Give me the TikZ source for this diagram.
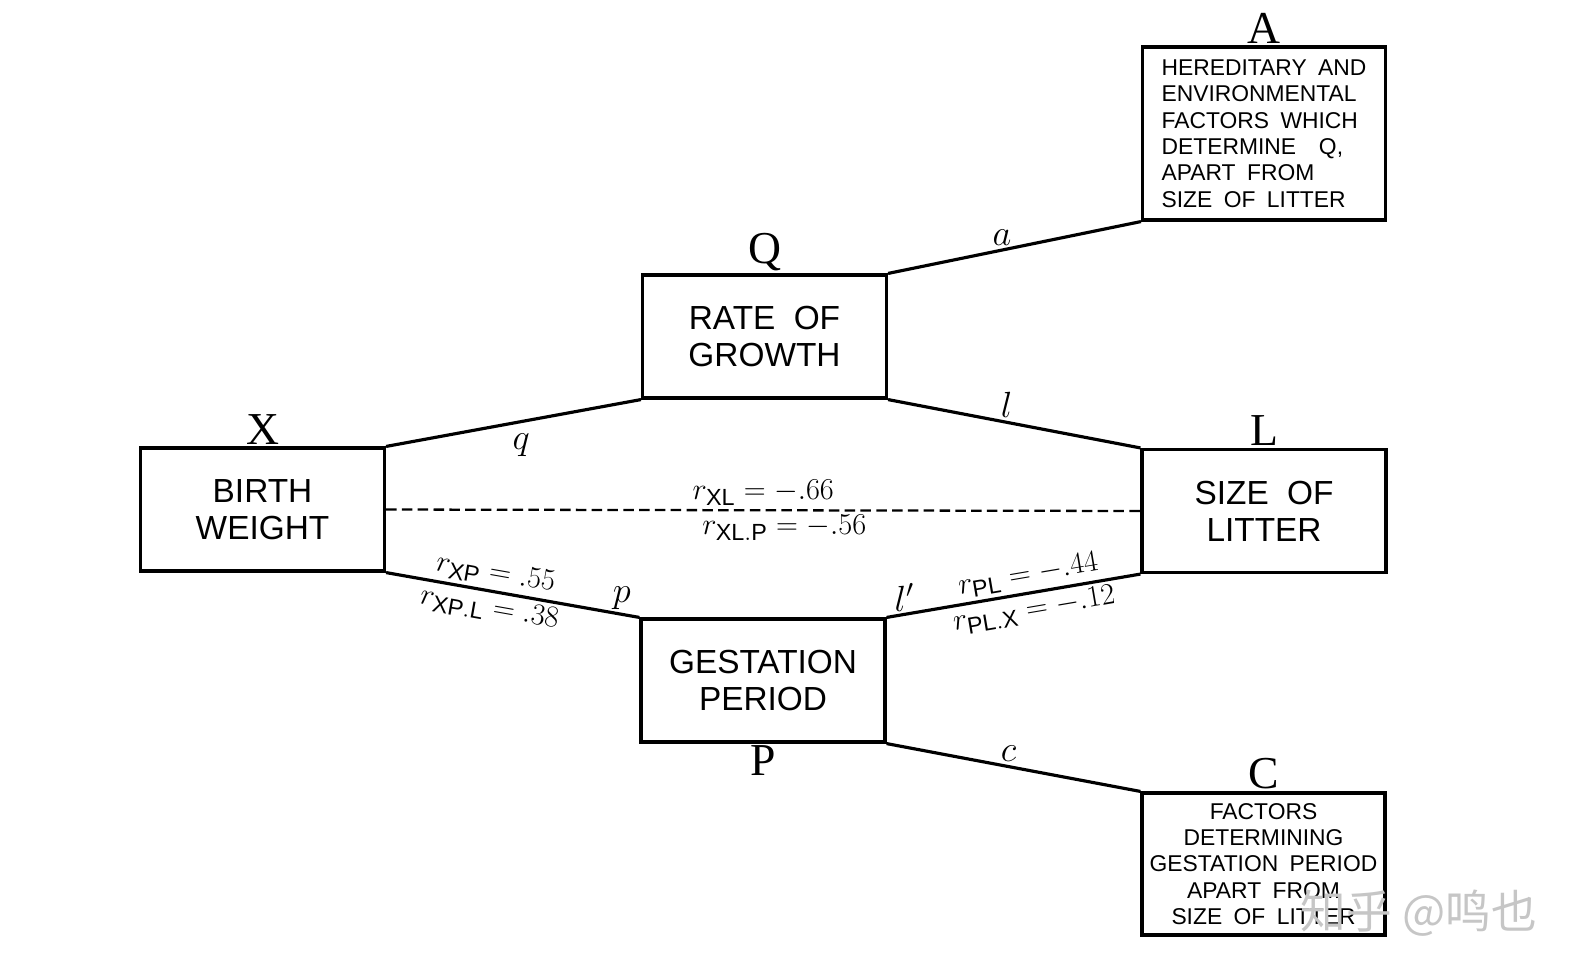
\documentclass[tikz,border=0pt]{standalone}
\usepackage{fontspec}
\setmainfont{Liberation Sans}
\newfontfamily\capserif{Liberation Serif}
\newfontfamily\cjkmark{Noto Sans CJK SC}
\usetikzlibrary{positioning}
\protected\def\varfont{\fontsize{19}{21}\selectfont\spaceskip=0.55em\relax}
\protected\def\factfont{\fontsize{13}{15}\selectfont\spaceskip=0.5em\relax}

\begin{document}
\begin{tikzpicture}[x=0.02cm,y=-0.02cm,
  varbox/.style={draw,line width=1.8pt,minimum width=4.88cm,minimum height=2.46cm,align=center,
    font=\varfont},
  factbox/.style={draw,line width=1.8pt,minimum width=4.86cm,inner sep=2pt,font=\factfont},
  varlbl/.style={font=\capserif\fontsize{26}{26}\selectfont,inner sep=1pt},
  link/.style={line width=1.8pt},
  corrline/.style={line width=1.3pt,dash pattern=on 6pt off 3pt},
  coef/.style={font=\fontsize{20}{20}\selectfont,inner sep=2pt},
  corr/.style={font=\fontsize{19}{19}\selectfont,inner sep=2pt},
  wmark/.style={font=\cjkmark\fontsize{26}{26}\selectfont,text=gray!45}]
\useasboundingbox (0,0) rectangle (1582,978);
% the four measured variables
\node[varbox,label={[varlbl]above:X}] (bw) at (262.5,509.5) {BIRTH\\WEIGHT};
\node[varbox,label={[varlbl]above:Q}] (rg) at (764.5,336.5) {RATE OF\\GROWTH};
\node[varbox,label={[varlbl]above:L}] (sl) at (1264,511) {SIZE OF\\LITTER};
\node[varbox,label={[varlbl]below:P}] (gp) at (763,680.5) {GESTATION\\PERIOD};
% residual factors
\node[factbox,align=left,minimum height=3.46cm,label={[varlbl]above:A}] (fa) at (1264,133.5)
  {HEREDITARY AND\\ENVIRONMENTAL\\FACTORS WHICH\\DETERMINE \ Q,\\APART FROM\\SIZE OF LITTER};
\node[factbox,align=center,minimum height=2.84cm,label={[varlbl]above:C}] (fc) at (1263.5,864)
  {FACTORS\\DETERMINING\\GESTATION PERIOD\\APART FROM\\SIZE OF LITTER};
% paths
\draw[link] (bw.north east) -- node[coef,pos=.53,below=4pt] {$q$} (rg.south west);
\draw[link] (rg.south east) -- node[coef,pos=.47,above] {$l$} (sl.north west);
\draw[link] (rg.north east) -- node[coef,pos=.45,above] {$a$} (fa.south west);
\draw[link] (gp.south east) -- node[coef,pos=.48,above] {$c$} (fc.north west);
\draw[link] (bw.south east) -- node[coef,pos=.93,above] {$p$}
  node[corr,pos=.42,sloped,above] {$r_{\mathrm{XP}}\;{=}\;.55$}
  node[corr,pos=.42,sloped,below] {$r_{\mathrm{XP.L}}\;{=}\;.38$} (gp.north west);
\draw[link] (gp.north east) -- node[coef,pos=.07,above=-1pt] {$l'$}
  node[corr,pos=.57,sloped,above] {$r_{\mathrm{PL}}\;{=}\;{-}.44$}
  node[corr,pos=.57,sloped,below] {$r_{\mathrm{PL.X}}\;{=}\;{-}.12$} (sl.south west);
\draw[corrline] (bw.east) -- node[corr,above] {$r_{\mathrm{XL}}\;{=}\;{-}.66$}
  node[corr,below,xshift=12pt] {$r_{\mathrm{XL.P}}\;{=}\;{-}.56$} (sl.west);
\node[wmark] (zh) at (1419,913) {知乎 @鸣也};
\end{tikzpicture}
\end{document}
